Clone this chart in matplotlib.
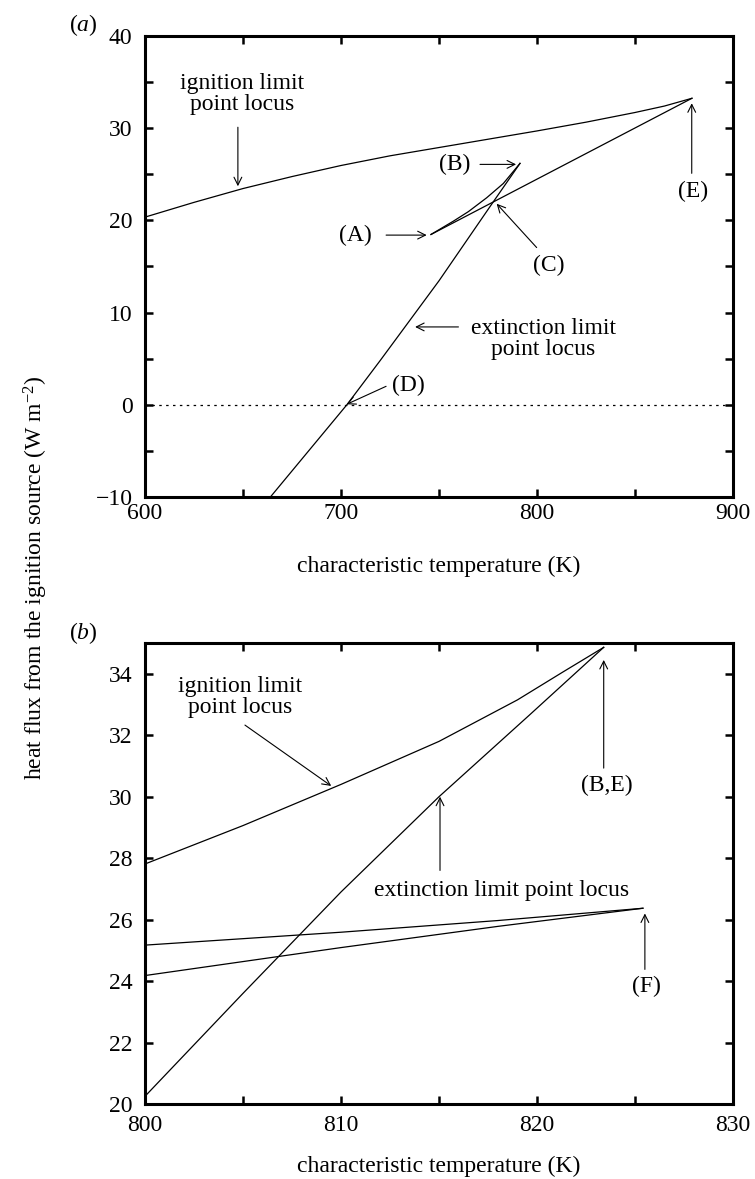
import matplotlib
matplotlib.use("Agg")
import matplotlib.pyplot as plt

plt.rcParams['font.family'] = ['Liberation Serif', 'DejaVu Serif']
plt.rcParams['mathtext.fontset'] = 'custom'
plt.rcParams['mathtext.rm'] = 'Liberation Serif'
plt.rcParams['mathtext.it'] = 'Liberation Serif:italic'

# panel (a): ignition branch, return branch E->A, cusp branch A->B, extinction branch B->D
ign_T_a = [600, 625, 650, 675, 700, 725, 750, 775, 800, 825, 850, 865, 879]
ign_q_a = [20.35, 21.95, 23.45, 24.75, 25.95, 27.0, 27.9, 28.8, 29.7, 30.65, 31.7, 32.4, 33.24]
ret_T_a = [879, 745.9]
ret_q_a = [33.24, 18.47]
cusp_T_a = [745.9, 757.3, 765, 774.3, 782.8, 791.3]
cusp_q_a = [18.47, 19.91, 20.95, 22.45, 24.0, 26.18]
ext_T_a = [791.3, 777, 750, 720, 703, 664]
ext_q_a = [26.18, 21.8, 13.45, 4.8, 0.0, -10]

# panel (b)
ign_T_b = [800, 805, 810, 815, 819, 821.3, 823.4]
ign_q_b = [27.81, 29.06, 30.4, 31.8, 33.15, 34.05, 34.86]
ext_T_b = [800, 805, 810, 815, 819.6, 823.4]
ext_q_b = [20.25, 23.6, 26.9, 30.0, 32.65, 34.86]
up_T_b = [800, 810, 818, 825.4]
up_q_b = [25.17, 25.59, 25.97, 26.37]
low_T_b = [800, 810, 818, 825.4]
low_q_b = [24.18, 25.09, 25.78, 26.37]

fig = plt.figure(figsize=(7.55, 11.79), dpi=100)
ax1 = fig.add_axes([0.192, 0.5785, 0.779, 0.391])
ax2 = fig.add_axes([0.192, 0.0636, 0.779, 0.391])

lw = 0.9
fs = 17
arrow = dict(arrowstyle='->', lw=0.8, color='black', shrinkA=0, shrinkB=0,
             mutation_scale=14)


def note(ax, text, xy, xytext, tx, ty, **kw):
    ax.annotate('', xy=xy, xytext=xytext, arrowprops=arrow)
    if text:
        ax.text(tx, ty, text, ha='center', va='center', fontsize=fs, **kw)


def style(ax):
    for s in ax.spines.values():
        s.set_linewidth(2.2)
    ax.tick_params(which='both', direction='in', top=True, right=True,
                   length=5.5, width=1.8, labelsize=fs)


# ---- panel (a)
for T, q in [(ign_T_a, ign_q_a), (ret_T_a, ret_q_a),
             (cusp_T_a, cusp_q_a), (ext_T_a, ext_q_a)]:
    ax1.plot(T, q, color='black', lw=lw)
ax1.axhline(0, color='black', lw=0.9, ls=(0, (2, 3.5)))
ax1.set_xlim(600, 900)
ax1.set_ylim(-10, 40)
ax1.set_xticks([600, 700, 800, 900])
ax1.set_xticks([650, 750, 850], minor=True)
ax1.set_yticks([-10, 0, 10, 20, 30, 40])
ax1.set_yticks([-5, 5, 15, 25, 35], minor=True)
style(ax1)
ax1.tick_params(axis='x', pad=4)
ax1.tick_params(axis='y', pad=9)

note(ax1, 'ignition limit\npoint locus', (647.4, 23.7), (647.4, 30.1), 649.5, 33.7,
     linespacing=1.0)
note(ax1, '(B)', (789.3, 26.07), (770.9, 26.07), 758.2, 26.07)
note(ax1, '(A)', (743.7, 18.4), (723.0, 18.4), 707.1, 18.4)
note(ax1, '(C)', (779.4, 21.8), (799.8, 17.05), 805.8, 15.06)
note(ax1, '(E)', (878.9, 32.7), (878.9, 25.1), 879.7, 23.1)
note(ax1, '(D)', (702.9, 0.05), (723.0, 2.0), 734.3, 2.11)
note(ax1, 'extinction limit\npoint locus', (737.8, 8.44), (759.9, 8.44), 803.2, 7.1,
     linespacing=1.0)

ax1.set_xlabel('characteristic temperature (K)', fontsize=fs, va='center')
ax1.xaxis.set_label_coords(0.5, -0.151)
fig.text(83 / 755, 1 - 25 / 1179, r'($a$)', fontsize=fs, ha='center', va='center')

# ---- panel (b)
for T, q in [(ign_T_b, ign_q_b), (ext_T_b, ext_q_b),
             (up_T_b, up_q_b), (low_T_b, low_q_b)]:
    ax2.plot(T, q, color='black', lw=lw)
ax2.set_xlim(800, 830)
ax2.set_ylim(20, 35)
ax2.set_xticks([800, 810, 820, 830])
ax2.set_xticks([805, 815, 825], minor=True)
ax2.set_yticks([20, 22, 24, 26, 28, 30, 32, 34])
style(ax2)
ax2.tick_params(axis='x', pad=8)
ax2.tick_params(axis='y', pad=9)

note(ax2, 'ignition limit\npoint locus', (809.5, 30.35), (805.1, 32.33), 804.85, 33.25,
     linespacing=1.0)
note(ax2, '(B,E)', (823.4, 34.45), (823.4, 30.93), 823.55, 30.38)
note(ax2, 'extinction limit point locus', (815.05, 30.0), (815.05, 27.6), 818.2, 26.96)
note(ax2, '(F)', (825.5, 26.2), (825.5, 24.38), 825.6, 23.82)

ax2.set_xlabel('characteristic temperature (K)', fontsize=fs, va='center')
ax2.xaxis.set_label_coords(0.5, -0.136)
fig.text(83 / 755, 1 - 633 / 1179, r'($b$)', fontsize=fs, ha='center', va='center')

fig.text(36 / 755, 1 - 578 / 1179,
         r'heat flux from the ignition source (W m$^{-2}$)',
         rotation=90, ha='center', va='center', fontsize=fs)

fig.savefig('out.png', dpi=100)
